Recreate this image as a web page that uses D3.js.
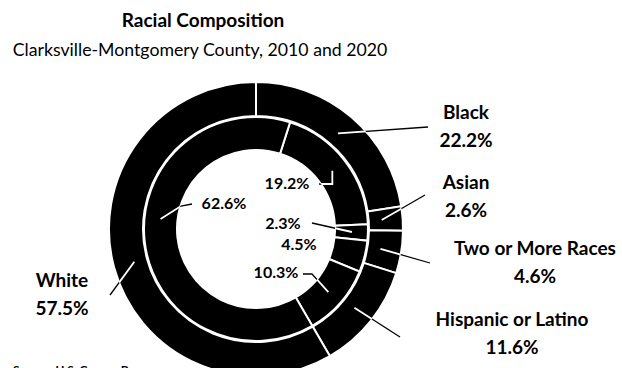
<!DOCTYPE html>
<html lang="en">
<head>
  <meta charset="UTF-8" />
  <title>Racial Composition</title>
  <script src="https://d3js.org/d3.v7.min.js"></script>
  <style>
    body { margin: 0; background: #fff; }
    svg { display: block; font-family: Lato, sans-serif; }
    .title { font-size: 19px; font-weight: 700; }
    .subtitle { font-size: 17.7px; font-weight: 400; }
    .lab { font-size: 19px; font-weight: 700; }
    .inlab { font-size: 16px; font-weight: 700; }
    .source { font-size: 12px; font-weight: 700; }
  </style>
</head>
<body>
  <svg id="chart" width="622" height="368"></svg>
  <script>
  // data (outer ring = 2020, inner ring = 2010)
  const categories = ["Black", "Asian", "Two or More Races", "Hispanic or Latino", "White"];
  const values2020 = [22.2, 2.6, 4.6, 11.6, 57.5];
  const values2010 = [19.2, 2.3, 4.5, 10.3, 62.6];

  const svg = d3.select("#chart"),
        cx = 256, cy = 229,
        g = svg.append("g").attr("transform", `translate(${cx},${cy})`);

  const rings = {
    outer: { inner: 113, outer: 147 },
    inner: { inner: 79, outer: 112 }
  };

  // label placement (page coords): centre x, baseline of name line
  const outerLayout = [
    { x: 466, y: 119, end: [428, 127] },
    { x: 466, y: 189, end: [425, 195] },
    { x: 535, y: 255, end: [430, 263] },
    { x: 512, y: 326, end: [400, 337] },
    { x: 62,  y: 287, end: [110, 295] }
  ];
  const innerLayout = [
    { x: 287, y: 189, from: [[319, 184], [null, 184]] },
    { x: 283, y: 229, from: [[312, 223]] },
    { x: 299, y: 250, from: null },
    { x: 276, y: 278, from: [[303, 274], [312, 274]] },
    { x: 224, y: 209, from: [[192, 204], [181, 206]], angle: 276 }
  ];

  const fmt = v => v.toFixed(1) + "%";
  const toLocal = p => [p[0] - cx, p[1] - cy];
  const polar = (a, r) => [r * Math.sin(a), -r * Math.cos(a)];

  const pieOuter = d3.pie().sort(null).value(d => d)(values2020);
  // inner ring is turned so its Hispanic/White boundary meets the outer one
  const offset = pieOuter[3].endAngle - d3.pie().sort(null).value(d => d)(values2010)[3].endAngle;
  const pieInner = d3.pie().sort(null).value(d => d)
    .startAngle(offset).endAngle(offset + 2 * Math.PI)(values2010);

  const arcOuter = d3.arc().innerRadius(rings.outer.inner).outerRadius(rings.outer.outer);
  const arcInner = d3.arc().innerRadius(rings.inner.inner).outerRadius(rings.inner.outer);

  g.append("g").selectAll("path").data(pieOuter).join("path")
    .attr("d", arcOuter).attr("fill", "#000")
    .attr("stroke", "#fff").attr("stroke-width", 2);
  g.append("g").selectAll("path").data(pieInner).join("path")
    .attr("d", arcInner).attr("fill", "#000")
    .attr("stroke", "#fff").attr("stroke-width", 2);

  // clip regions so leader lines turn white where they cross a ring
  const defs = svg.append("defs");
  [["clipOuter", rings.outer], ["clipInner", rings.inner]].forEach(([id, r]) => {
    defs.append("clipPath").attr("id", id).append("path")
      .attr("d", d3.arc()({ innerRadius: r.inner, outerRadius: r.outer, startAngle: 0, endAngle: 2 * Math.PI }));
  });

  const line = d3.line();
  function leader(pts, clip) {
    g.append("path").attr("d", line(pts)).attr("fill", "none")
      .attr("stroke", "#000").attr("stroke-width", 1.3);
    g.append("path").attr("d", line(pts)).attr("fill", "none")
      .attr("stroke", "#fff").attr("stroke-width", 1.8)
      .attr("clip-path", `url(#${clip})`);
  }

  // outer labels
  pieOuter.forEach((d, i) => {
    const L = outerLayout[i];
    const mid = (d.startAngle + d.endAngle) / 2;
    leader([polar(mid, 126), toLocal(L.end)], "clipOuter");
    const t = svg.append("text").attr("class", "lab").attr("text-anchor", "middle");
    t.append("tspan").attr("x", L.x).attr("y", L.y).text(categories[i]);
    t.append("tspan").attr("x", L.x).attr("y", L.y + 28).text(fmt(values2020[i]));
  });

  // inner labels
  pieInner.forEach((d, i) => {
    const L = innerLayout[i];
    const a = L.angle != null ? L.angle * Math.PI / 180 : (d.startAngle + d.endAngle) / 2;
    const anchor = polar(a, 96);
    if (L.from) {
      const pts = L.from.map(p => p[0] == null ? [anchor[0], p[1] - cy] : toLocal(p));
      leader(pts.concat([anchor]), "clipInner");
    }
    svg.append("text").attr("class", "inlab").attr("text-anchor", "middle")
      .attr("x", L.x).attr("y", L.y).text(fmt(values2010[i]));
  });

  svg.append("text").attr("class", "title").attr("text-anchor", "middle")
    .attr("x", 203).attr("y", 27).text("Racial Composition");
  svg.append("text").attr("class", "subtitle").attr("text-anchor", "middle")
    .attr("x", 200).attr("y", 56).text("Clarksville-Montgomery County, 2010 and 2020");
  svg.append("text").attr("class", "source")
    .attr("x", 13).attr("y", 374).text("Source: U.S. Census Bureau");
  </script>
</body>
</html>
